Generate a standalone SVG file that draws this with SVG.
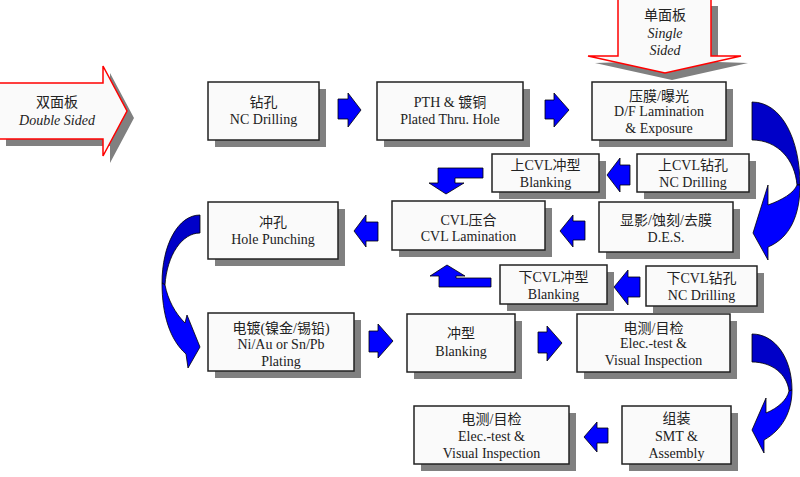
<svg xmlns="http://www.w3.org/2000/svg" width="800" height="477" viewBox="0 0 800 477">
<style>
.bx{fill:#fafafa;stroke:#222;stroke-width:1.5}
.sh{fill:#808080}
.t{font-family:"Liberation Serif","Noto Sans CJK SC",serif;font-size:14px;fill:#222;text-anchor:middle}
.it{font-style:italic}
.ar{fill:#0000ff;stroke:#000;stroke-width:0.8;stroke-linejoin:miter}
.ard{fill:#0000c8;stroke:#000;stroke-width:0.8}
.big{fill:#fafafa;stroke:#ff0000;stroke-width:1.5}
</style>
<rect width="800" height="477" fill="#fff"/>

<g id="double-sided">
<polygon class="sh" points="6,89 110,89 110,73 134,118 110,163 110,146 6,146"/>
<polygon class="big" points="-2,83 103,83 103,66 127,111 103,156 103,139 -2,139"/>
<text class="t" x="57" y="107">双面板</text>
<text class="t it" x="57" y="125">Double Sided</text>
</g>

<g id="single-sided">
<polygon class="sh" points="625,6 718,6 718,62 748,63 672,80 595,63 625,62"/>
<polygon class="big" points="618,-2 711,-2 711,56 741,56 665,73 588,56 618,56"/>
<text class="t" x="665" y="20">单面板</text>
<text class="t it" x="665" y="38">Single</text>
<text class="t it" x="665" y="55">Sided</text>
</g>

<g id="n1"><rect class="sh" x="215" y="89" width="111" height="58"/><rect class="bx" x="208" y="82" width="111" height="58"/>
<text class="t" x="263.5" y="107">钻孔</text><text class="t" x="263.5" y="124">NC Drilling</text></g>

<g id="n2"><rect class="sh" x="384" y="89" width="146" height="58"/><rect class="bx" x="377" y="82" width="146" height="58"/>
<text class="t" x="450" y="107">PTH &amp; 镀铜</text><text class="t" x="450" y="124">Plated Thru. Hole</text></g>

<g id="n3"><rect class="sh" x="599" y="89" width="134" height="58"/><rect class="bx" x="592" y="82" width="134" height="58"/>
<text class="t" x="659" y="101">压膜/曝光</text><text class="t" x="659" y="116">D/F Lamination</text><text class="t" x="659" y="133">&amp; Exposure</text></g>

<g id="n4"><rect class="sh" x="499" y="161" width="107" height="38"/><rect class="bx" x="492" y="154" width="107" height="38"/>
<text class="t" x="545.5" y="170">上CVL冲型</text><text class="t" x="545.5" y="187">Blanking</text></g>

<g id="n5"><rect class="sh" x="644" y="161" width="112" height="38"/><rect class="bx" x="637" y="154" width="112" height="38"/>
<text class="t" x="693" y="170">上CVL钻孔</text><text class="t" x="693" y="187">NC Drilling</text></g>

<g id="n6"><rect class="sh" x="606" y="209" width="134" height="50"/><rect class="bx" x="599" y="202" width="134" height="50"/>
<text class="t" x="666" y="225">显影/蚀刻/去膜</text><text class="t" x="666" y="242">D.E.S.</text></g>

<g id="n7"><rect class="sh" x="399" y="208" width="153" height="49"/><rect class="bx" x="392" y="201" width="153" height="49"/>
<text class="t" x="468.5" y="225">CVL压合</text><text class="t" x="468.5" y="241">CVL Lamination</text></g>

<g id="n8"><rect class="sh" x="507" y="272" width="107" height="39"/><rect class="bx" x="500" y="265" width="107" height="39"/>
<text class="t" x="553.5" y="282">下CVL冲型</text><text class="t" x="553.5" y="299">Blanking</text></g>

<g id="n9"><rect class="sh" x="653" y="273" width="111" height="40"/><rect class="bx" x="646" y="266" width="111" height="40"/>
<text class="t" x="701.5" y="283">下CVL钻孔</text><text class="t" x="701.5" y="300">NC Drilling</text></g>

<g id="n10"><rect class="sh" x="215" y="209" width="130" height="57"/><rect class="bx" x="208" y="202" width="130" height="57"/>
<text class="t" x="273" y="227">冲孔</text><text class="t" x="273" y="244">Hole Punching</text></g>

<g id="n11"><rect class="sh" x="215" y="320" width="146" height="58"/><rect class="bx" x="208" y="313" width="146" height="58"/>
<text class="t" x="281" y="333">电镀(镍金/锡铅)</text><text class="t" x="281" y="349">Ni/Au or Sn/Pb</text><text class="t" x="281" y="366">Plating</text></g>

<g id="n12"><rect class="sh" x="414" y="321" width="108" height="58"/><rect class="bx" x="407" y="314" width="108" height="58"/>
<text class="t" x="461" y="338">冲型</text><text class="t" x="461" y="356">Blanking</text></g>

<g id="n13"><rect class="sh" x="584" y="321" width="153" height="58"/><rect class="bx" x="577" y="314" width="153" height="58"/>
<text class="t" x="653.5" y="333">电测/目检</text><text class="t" x="653.5" y="348">Elec.-test &amp;</text><text class="t" x="653.5" y="365">Visual Inspection</text></g>

<g id="n14"><rect class="sh" x="629" y="413" width="109" height="58"/><rect class="bx" x="622" y="406" width="109" height="58"/>
<text class="t" x="676.5" y="423">组装</text><text class="t" x="676.5" y="441">SMT &amp;</text><text class="t" x="676.5" y="458">Assembly</text></g>

<g id="n15"><rect class="sh" x="421" y="413" width="155" height="58"/><rect class="bx" x="414" y="406" width="155" height="58"/>
<text class="t" x="491.5" y="424">电测/目检</text><text class="t" x="491.5" y="441">Elec.-test &amp;</text><text class="t" x="491.5" y="458">Visual Inspection</text></g>

<g id="connectors">
<polygon class="ar" points="338,99 348,99 348,93 361,110 348,127 348,119 338,119"/>
<polygon class="ar" points="545,100 554,100 554,93 569,110 554,127 554,119 545,119"/>
<polygon class="ar" points="630,165 620,165 620,158 607,175 620,192 620,185 630,185"/>
<polygon class="ar" points="585,221 573,221 573,215 560,231 573,247 573,240 585,240"/>
<polygon class="ar" points="640,277 628,277 628,270 614,287 628,305 628,297 640,297"/>
<polygon class="ar" points="378,222 366,222 366,215 354,231 366,247 366,241 378,241"/>
<polygon class="ar" points="369,331 378,331 378,324 393,341 378,358 378,352 369,352"/>
<polygon class="ar" points="538,332 547,332 547,326 562,343 547,361 547,353 538,353"/>
<polygon class="ar" points="608,428 597,428 597,422 584,437 597,452 597,443 608,443"/>
<polygon class="ar" points="483,168 438,168 438,183 429,183 446,194 464,183 455,183 455,178 483,178"/>
<polygon class="ar" points="491,287 439,287 439,276 430,276 447,265 465,276 456,276 456,278 491,278"/>
<!-- curved arrow right top -->
<path class="ard" d="M752,102 C782,102 800,140 800,185 L797,185 C795,160 778,140 752,140 Z"/>
<path class="ar" d="M800,185 C800,215 790,238 768,247 L768,260 L753,233 L768,185 L768,205 C782,200 794,193 797,185 Z"/>
<!-- curved arrow right bottom -->
<path class="ard" d="M752,334 C775,334 792,358 792,390 L789,391 C787,374 772,362 752,362 Z"/>
<path class="ar" d="M792,390 C792,412 782,430 764,440 L764,453 L752,430 L766,398 L766,413 C778,408 787,400 789,391 Z"/>
<!-- curved arrow left -->
<path class="ard" d="M200,215 C178,215 162,245 162,283 L165,285 C167,255 182,233 200,233 Z"/>
<path class="ar" d="M162,283 C162,315 170,340 186,354 L188,368 L200,347 L187,315 L185,323 C175,313 168,300 165,285 Z"/>
</g>
</svg>
